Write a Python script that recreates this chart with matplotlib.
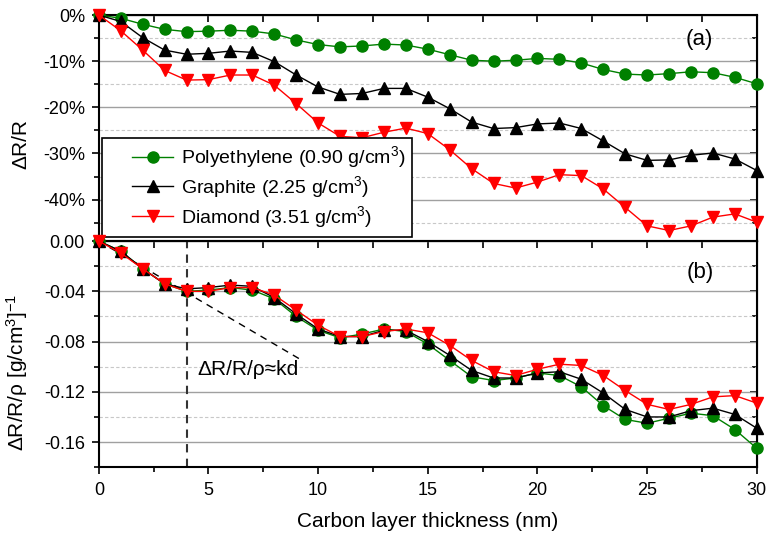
import numpy as np
import matplotlib
matplotlib.use("Agg")
import matplotlib.pyplot as plt
from matplotlib.lines import Line2D
from matplotlib.legend_handler import HandlerLine2D
from matplotlib.ticker import MultipleLocator, FuncFormatter

plt.rcParams['font.family'] = ['Liberation Sans', 'DejaVu Sans']
plt.rcParams['mathtext.fontset'] = 'custom'
plt.rcParams['mathtext.rm'] = 'Liberation Sans'
plt.rcParams['mathtext.it'] = 'Liberation Sans:italic'
plt.rcParams['axes.unicode_minus'] = False

# Carbon layer thickness (nm)
thickness = np.arange(0, 31)

# Panel (a): relative change dR/R (fraction)
poly_dr = [0.0, -0.007, -0.020, -0.031, -0.036, -0.035, -0.033, -0.035, -0.041, -0.054,
           -0.064, -0.069, -0.067, -0.063, -0.065, -0.074, -0.086, -0.098, -0.100, -0.098,
           -0.094, -0.096, -0.104, -0.118, -0.128, -0.130, -0.127, -0.123, -0.125, -0.135,
           -0.149]
graph_dr = [0.0, -0.014, -0.049, -0.076, -0.085, -0.083, -0.078, -0.081, -0.101, -0.130,
            -0.156, -0.172, -0.170, -0.159, -0.159, -0.178, -0.203, -0.232, -0.246, -0.244,
            -0.236, -0.234, -0.246, -0.273, -0.301, -0.315, -0.314, -0.304, -0.299, -0.312,
            -0.337]
diam_dr = [0.0, -0.034, -0.076, -0.120, -0.141, -0.140, -0.130, -0.130, -0.152, -0.192,
           -0.234, -0.263, -0.266, -0.254, -0.245, -0.257, -0.292, -0.333, -0.365, -0.375,
           -0.362, -0.346, -0.348, -0.377, -0.417, -0.457, -0.467, -0.457, -0.438, -0.431,
           -0.449]

# Panel (b): dR/R/rho  [g/cm3]^-1
poly_norm = [0.0, -0.008, -0.022, -0.034, -0.040, -0.039, -0.037, -0.039, -0.046, -0.060,
             -0.071, -0.077, -0.074, -0.070, -0.072, -0.082, -0.095, -0.108, -0.111, -0.109,
             -0.105, -0.107, -0.116, -0.131, -0.142, -0.145, -0.141, -0.137, -0.139, -0.150,
             -0.165]
graph_norm = [0.0, -0.008, -0.022, -0.034, -0.038, -0.037, -0.035, -0.036, -0.045, -0.058,
              -0.070, -0.076, -0.076, -0.071, -0.071, -0.080, -0.091, -0.103, -0.109, -0.109,
              -0.105, -0.104, -0.110, -0.121, -0.134, -0.140, -0.140, -0.135, -0.133, -0.138,
              -0.149]
diam_norm = [0.0, -0.0095, -0.022, -0.034, -0.040, -0.040, -0.037, -0.037, -0.043, -0.055,
             -0.067, -0.076, -0.076, -0.072, -0.070, -0.073, -0.083, -0.095, -0.104, -0.107,
             -0.102, -0.098, -0.099, -0.107, -0.119, -0.130, -0.134, -0.130, -0.124, -0.123,
             -0.129]

labels = ['Polyethylene (0.90 g/cm$^3$)', 'Graphite (2.25 g/cm$^3$)', 'Diamond (3.51 g/cm$^3$)']
colors = ['#008000', 'black', '#ff0000']
markers = ['o', '^', 'v']

# linear guide dR/R/rho ~ k d
guide_x = [0.0, 9.25]
guide_y = [0.0, -0.0948]

fig, (ax1, ax2) = plt.subplots(2, 1, figsize=(7.66, 5.37), dpi=100, sharex=True)
fig.subplots_adjust(left=0.129, right=0.988, top=0.972, bottom=0.130, hspace=0)

for ax, series in ((ax1, (poly_dr, graph_dr, diam_dr)),
                   (ax2, (poly_norm, graph_norm, diam_norm))):
    for vals, lab, col, mk in zip(series, labels, colors, markers):
        ms = 8 if mk == 'o' else 9
        ax.plot(thickness, vals, marker=mk, color=col, lw=1, ms=ms,
                label=lab, zorder=3, clip_on=False)
    ax.set_xlim(0, 30)
    ax.xaxis.set_major_locator(MultipleLocator(5))
    ax.xaxis.set_minor_locator(MultipleLocator(2.5))
    ax.grid(True, which='major', axis='y', color='#a0a0a0', lw=1, ls='-', zorder=0)
    ax.grid(True, which='minor', axis='y', color='#c8c8c8', lw=0.8, ls=(0, (3, 2)), zorder=0)
    ax.tick_params(which='both', direction='out', labelsize=13, width=1.2)
    ax.tick_params(which='major', length=5)
    ax.tick_params(which='minor', length=3.5)
    ax.tick_params(axis='x', pad=6)
    ax.tick_params(axis='y', pad=5)
    for s in ax.spines.values():
        s.set_linewidth(1.5)
    # inward ticks on top and right
    sec_x = ax.secondary_xaxis('top')
    sec_x.xaxis.set_major_locator(MultipleLocator(2.5))
    sec_x.tick_params(direction='in', length=5, width=1.2, labeltop=False)
    sec_y = ax.secondary_yaxis('right')
    sec_y.tick_params(which='both', direction='in', width=1.2, labelright=False)
    sec_y.tick_params(which='major', length=5)
    sec_y.tick_params(which='minor', length=3.5)
    ax._sec = sec_y

# panel (a)
ax1.set_ylim(-0.49, 0)
ax1.yaxis.set_major_locator(MultipleLocator(0.1))
ax1.yaxis.set_minor_locator(MultipleLocator(0.05))
ax1._sec.yaxis.set_major_locator(MultipleLocator(0.1))
ax1._sec.yaxis.set_minor_locator(MultipleLocator(0.05))
ax1.yaxis.set_major_formatter(FuncFormatter(lambda v, p: f"{v * 100:.0f}%"))
ax1.set_ylabel('ΔR/R', fontsize=15)
ax1.yaxis.set_label_coords(-0.104, 0.43)
ax1.tick_params(axis='x', labelbottom=False)
ax1.text(27.4, -0.054, '(a)', fontsize=16, ha='center', va='center')
leg = ax1.legend(loc='lower left', bbox_to_anchor=(0.005, 0.02), fontsize=14,
                 frameon=True, fancybox=False, edgecolor='black', framealpha=1,
                 handlelength=3.3, borderpad=0.35, labelspacing=0.2, handletextpad=0.4,
                 borderaxespad=0, handler_map={Line2D: HandlerLine2D(xpad=1.2)})
leg.get_frame().set_linewidth(1.2)
leg.set_zorder(5)

# panel (b)
ax2.set_ylim(-0.18, 0)
ax2.yaxis.set_major_locator(MultipleLocator(0.04))
ax2.yaxis.set_minor_locator(MultipleLocator(0.02))
ax2._sec.yaxis.set_major_locator(MultipleLocator(0.04))
ax2._sec.yaxis.set_minor_locator(MultipleLocator(0.02))
ax2.yaxis.set_major_formatter(FuncFormatter(lambda v, p: f"{v:.2f}"))
ax2.set_ylabel('ΔR/R/ρ [g/cm$^3$]$^{-1}$', fontsize=15)
ax2.yaxis.set_label_coords(-0.104, 0.42)
ax2.set_xlabel('Carbon layer thickness (nm)', fontsize=15, labelpad=9)
ax2.text(27.4, -0.0248, '(b)', fontsize=16, ha='center', va='center')
ax2.axvline(4, color='#333333', lw=1.5, ls=(0, (4, 3)), zorder=2)
ax2.plot(guide_x, guide_y, color='black', lw=1, ls=(0, (5, 4)), zorder=2)
ax2.text(4.5, -0.1026, 'ΔR/R/ρ≈kd', fontsize=15, ha='left', va='center')

fig.savefig('out.png', dpi=100)
